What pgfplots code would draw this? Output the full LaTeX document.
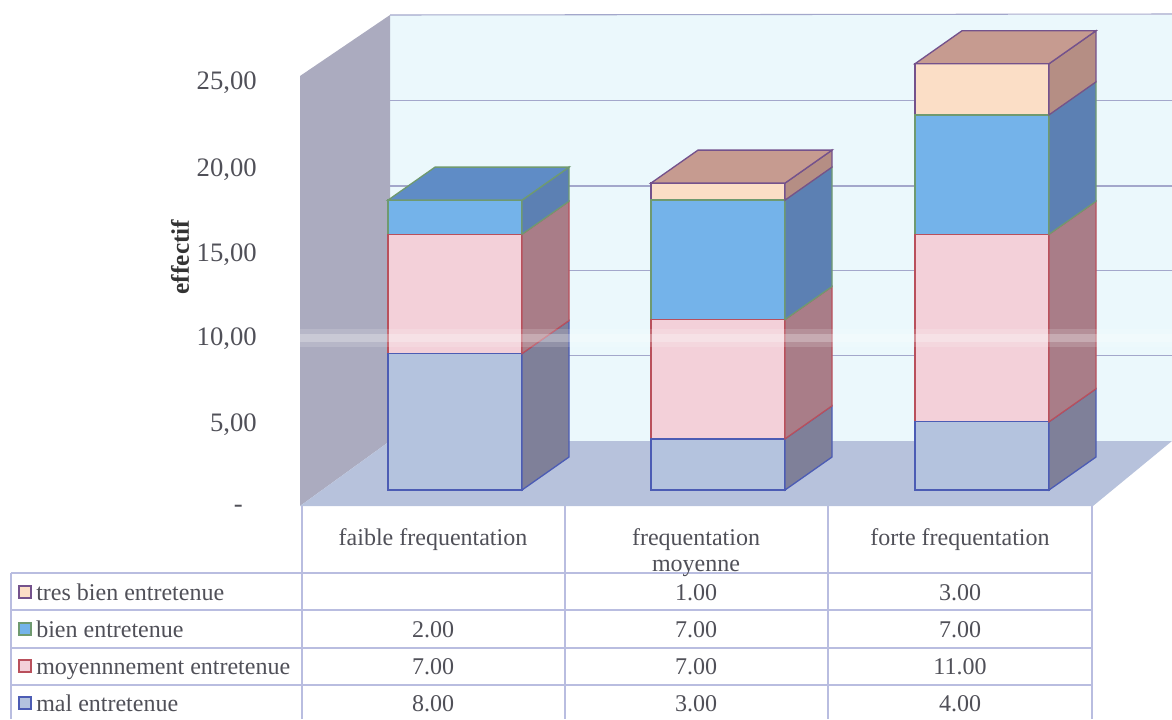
\documentclass[border=0pt]{standalone}
\usepackage{pgfplots}
\pgfplotsset{compat=1.18}
\usepackage{fontspec}
\setmainfont{Liberation Serif}
\definecolor{wall}{HTML}{EBF8FC}
\definecolor{lwall}{HTML}{ABABBF}
\definecolor{floorc}{HTML}{B7C2DC}
\definecolor{gridc}{HTML}{A3A7CB}
\definecolor{tabc}{HTML}{B9BDE0}
\definecolor{txt}{HTML}{505058}
\definecolor{malF}{HTML}{B4C3DE}\definecolor{malS}{HTML}{7F8099}\definecolor{malE}{HTML}{4C5CB4}
\definecolor{moyF}{HTML}{F3D0D9}\definecolor{moyS}{HTML}{A97D88}\definecolor{moyE}{HTML}{B9505C}
\definecolor{bieF}{HTML}{74B3EA}\definecolor{bieS}{HTML}{5C80B3}\definecolor{bieT}{HTML}{5F8CC6}\definecolor{bieE}{HTML}{6F9A70}
\definecolor{treF}{HTML}{FBDEC6}\definecolor{treS}{HTML}{B58E84}\definecolor{treT}{HTML}{C69B90}\definecolor{treE}{HTML}{74528C}
\pgfplotsset{
  canvas/.style={hide axis, scale only axis, width=879pt, height=539.25pt, clip=true, anchor=south west, at={(0,0)}},
  pixels/.style={canvas, xmin=0, xmax=1172, ymin=0, ymax=719, y dir=reverse},
  values/.style={canvas, xmin=0, xmax=1172, ymin=-13.431, ymax=28.739},
}
\newcommand{\tab}[3]{\node[yshift=-3pt,text=txt,inner sep=0pt,text height=11pt,text depth=4pt,font=\fontsize{18}{20}\selectfont] at (axis cs:#1,#2) {#3};}
\newcommand{\rowlab}[2]{\node[yshift=-3pt,anchor=west,inner sep=0pt,text height=11pt,text depth=4pt,text=txt,font=\fontsize{18}{20}\selectfont] at (axis cs:36,#1) {#2};}
\newcommand{\ylab}[2]{\node[yshift=-2pt,anchor=east,inner sep=0pt,text=txt,font=\fontsize{20}{22}\selectfont] at (axis cs:257,#1) {#2};}
\begin{document}
\begin{tikzpicture}
\useasboundingbox (0,0) rectangle (879pt,539.25pt);
% ---- walls, floor, table, text (picture pixel coordinates)
\begin{axis}[pixels]
\addplot[fill=wall,draw=none] coordinates {(390,15)(1172,15)(1172,441)(390,441)} -- cycle;
\addplot[fill=lwall,draw=none] coordinates {(300,76)(390,15)(390,441)(300,506)} -- cycle;
\addplot[fill=floorc,draw=none] coordinates {(300,506)(390,441)(1172,441)(1093,506)} -- cycle;
\addplot[gridc,line width=0.8pt] coordinates {(390,15)(1172,14)};
\addplot[gridc,line width=0.6pt] coordinates {(390,100)(1172,100)};
\addplot[gridc,line width=0.8pt] coordinates {(390,186)(1172,186)};
\addplot[gridc,line width=0.6pt] coordinates {(390,270)(1172,270)};
\addplot[gridc,line width=0.6pt] coordinates {(390,355)(1172,355)};
% table
\addplot[tabc,line width=0.8pt] coordinates {(302,506)(302,719)};
\addplot[tabc,line width=0.8pt] coordinates {(565,506)(565,719)};
\addplot[tabc,line width=0.8pt] coordinates {(828,506)(828,719)};
\addplot[tabc,line width=0.8pt] coordinates {(1092,506)(1092,719)};
\addplot[tabc,line width=0.8pt] coordinates {(11,573)(11,719)};
\addplot[tabc,line width=0.8pt] coordinates {(11,573)(1092,573)};
\addplot[tabc,line width=0.8pt] coordinates {(11,610)(1092,610)};
\addplot[tabc,line width=0.8pt] coordinates {(11,648)(1092,648)};
\addplot[tabc,line width=0.8pt] coordinates {(11,685)(1092,685)};
% legend keys
\addplot[fill=treF,draw=treE,line width=1pt] coordinates {(19,586)(31,586)(31,598)(19,598)} -- cycle;
\addplot[fill=bieF,draw=bieE,line width=1pt] coordinates {(19,623)(31,623)(31,635)(19,635)} -- cycle;
\addplot[fill=moyF,draw=moyE,line width=1pt] coordinates {(19,660)(31,660)(31,672)(19,672)} -- cycle;
\addplot[fill=malF,draw=malE,line width=1pt] coordinates {(19,697)(31,697)(31,709)(19,709)} -- cycle;
% y labels
\ylab{80}{25,00}
\ylab{167}{20,00}
\ylab{252}{15,00}
\ylab{336}{10,00}
\ylab{422}{5,00}
\node[anchor=east,inner sep=0pt,text=txt,font=\fontsize{20}{22}\selectfont] at (axis cs:243,509) {-};
\node[rotate=90,font=\fontsize{19}{22}\selectfont\bfseries,text=black!80] at (axis cs:180,257) {effectif};
% category row
\tab{433}{537}{faible frequentation}
\tab{696}{537}{frequentation}
\tab{696}{563}{moyenne}
\tab{960}{537}{forte frequentation}
% row labels
\rowlab{592}{tres bien entretenue}
\rowlab{629}{bien entretenue}
\rowlab{666}{moyennnement entretenue}
\rowlab{703}{mal entretenue}
% data cells
\tab{696}{592}{1.00}\tab{960}{592}{3.00}
\tab{433}{629}{2.00}\tab{696}{629}{7.00}\tab{960}{629}{7.00}
\tab{433}{666}{7.00}\tab{696}{666}{7.00}\tab{960}{666}{11.00}
\tab{433}{703}{8.00}\tab{696}{703}{3.00}\tab{960}{703}{4.00}
\end{axis}
% ---- front faces: the stacked values
\begin{axis}[values, ybar stacked, bar width=134]
\addplot[fill=malF,draw=malE,line width=1pt] coordinates {(455,8)(718,3)(982,4)};
\addplot[fill=moyF,draw=moyE,line width=1pt] coordinates {(455,7)(718,7)(982,11)};
\addplot[fill=bieF,draw=bieE,line width=1pt] coordinates {(455,2)(718,7)(982,7)};
\addplot[fill=treF,draw=treE,line width=1pt] coordinates {(455,0)(718,1)(982,3)};
\end{axis}
% ---- side and top faces (x in picture pixels, y in effectif, depth 47 / 1.935)
\begin{axis}[values]
\addplot[fill=malS,draw=malE,line width=1pt] coordinates {(522,0)(569,1.935)(569,9.935)(522,8)} -- cycle;
\addplot[fill=moyS,draw=moyE,line width=1pt] coordinates {(522,8)(569,9.935)(569,16.935)(522,15)} -- cycle;
\addplot[fill=bieS,draw=bieE,line width=1pt] coordinates {(522,15)(569,16.935)(569,18.935)(522,17)} -- cycle;
\addplot[fill=bieT,draw=bieE,line width=1pt] coordinates {(388,17)(435,18.935)(569,18.935)(522,17)} -- cycle;
\addplot[fill=malS,draw=malE,line width=1pt] coordinates {(785,0)(832,1.935)(832,4.935)(785,3)} -- cycle;
\addplot[fill=moyS,draw=moyE,line width=1pt] coordinates {(785,3)(832,4.935)(832,11.935)(785,10)} -- cycle;
\addplot[fill=bieS,draw=bieE,line width=1pt] coordinates {(785,10)(832,11.935)(832,18.935)(785,17)} -- cycle;
\addplot[fill=treS,draw=treE,line width=1pt] coordinates {(785,17)(832,18.935)(832,19.935)(785,18)} -- cycle;
\addplot[fill=treT,draw=treE,line width=1pt] coordinates {(651,18)(698,19.935)(832,19.935)(785,18)} -- cycle;
\addplot[fill=malS,draw=malE,line width=1pt] coordinates {(1049,0)(1096,1.935)(1096,5.935)(1049,4)} -- cycle;
\addplot[fill=moyS,draw=moyE,line width=1pt] coordinates {(1049,4)(1096,5.935)(1096,16.935)(1049,15)} -- cycle;
\addplot[fill=bieS,draw=bieE,line width=1pt] coordinates {(1049,15)(1096,16.935)(1096,23.935)(1049,22)} -- cycle;
\addplot[fill=treS,draw=treE,line width=1pt] coordinates {(1049,22)(1096,23.935)(1096,26.935)(1049,25)} -- cycle;
\addplot[fill=treT,draw=treE,line width=1pt] coordinates {(915,25)(962,26.935)(1096,26.935)(1049,25)} -- cycle;
\end{axis}
% ---- pale scanning streak
\begin{axis}[pixels]
\addplot[fill=white,draw=none,opacity=0.15] coordinates {(300,329)(1172,329)(1172,347)(300,347)} -- cycle;
\addplot[fill=white,draw=none,opacity=0.25] coordinates {(300,334)(1172,334)(1172,342)(300,342)} -- cycle;
\end{axis}
\end{tikzpicture}
\end{document}
